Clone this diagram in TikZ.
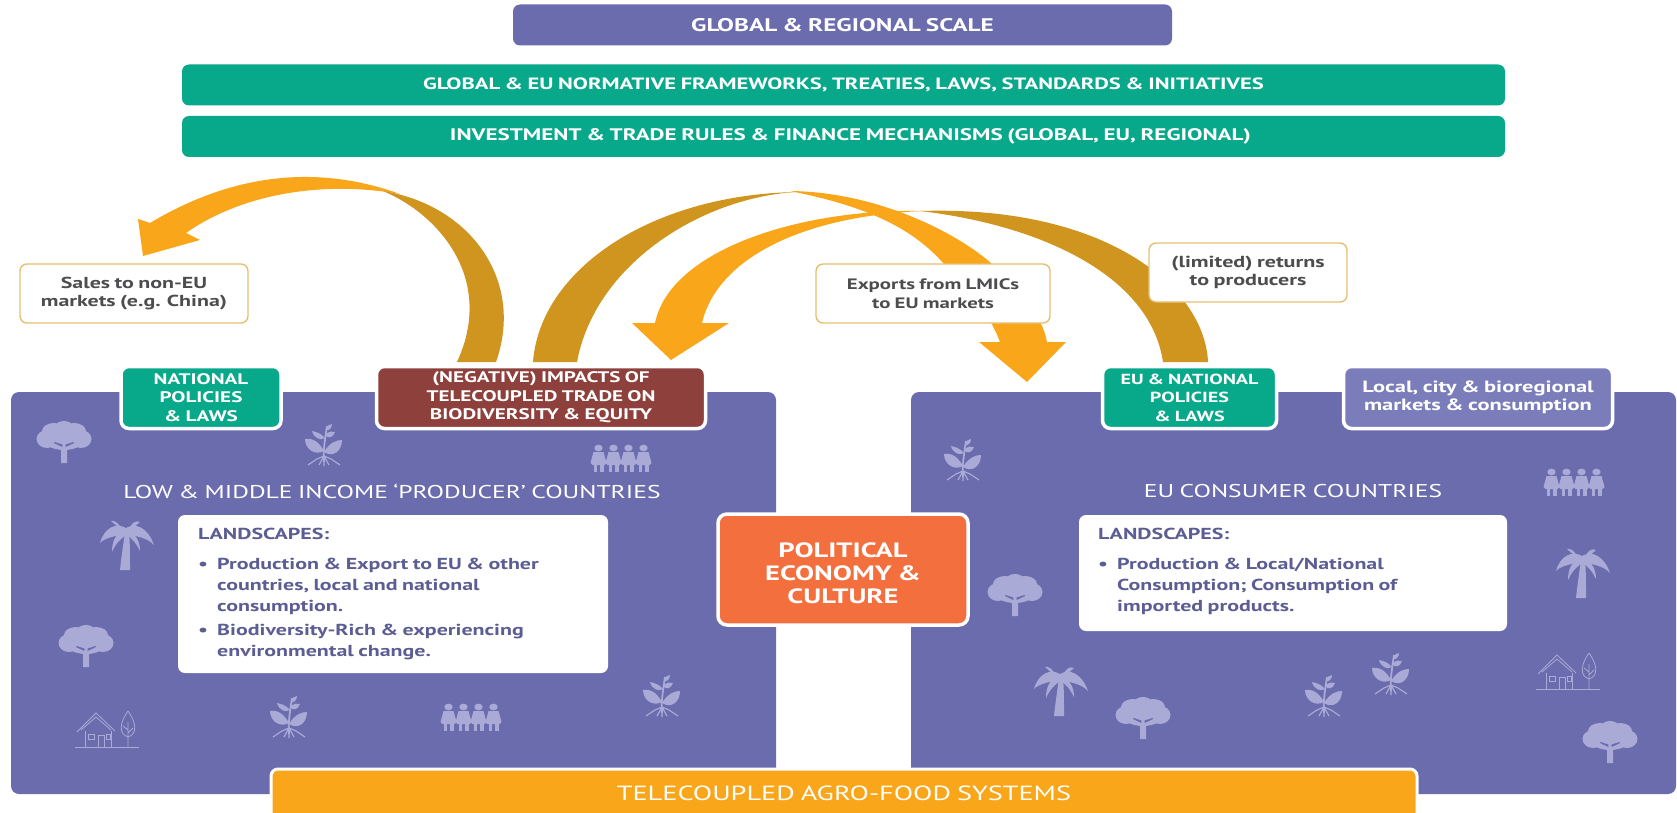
\documentclass[tikz,border=0pt]{standalone}
\usepackage{fontspec}
\setmainfont{PT Sans}[FakeStretch=1.38,WordSpace=0.8]
\definecolor{panel}{HTML}{6A6CAE}
\definecolor{teal}{HTML}{07A98A}
\definecolor{brick}{HTML}{8E403C}
\definecolor{tang}{HTML}{F36F3E}
\definecolor{amber}{HTML}{FAA61A}
\definecolor{gold}{HTML}{D0951F}
\definecolor{lilac}{HTML}{A9AAD6}
\definecolor{localbox}{HTML}{7B7DBB}
\definecolor{ink}{HTML}{5B5D93}
\definecolor{graytxt}{HTML}{4D4D4F}
\definecolor{lblline}{HTML}{E5C071}
\newcommand{\sz}[1]{\fontsize{#1}{18.5}\selectfont}
\tikzset{
  fbox/.style={rounded corners=7pt,align=center,inner sep=0pt,text=white},
  tagbox/.style={fbox,draw=white,line width=3.5pt,rounded corners=8pt},
  lbl/.style={draw=lblline,line width=1.4pt,fill=white,rounded corners=7pt,align=center,inner sep=0pt,text=graytxt},
  land/.style={fill=white,rounded corners=7pt,inner sep=0pt},
  landtxt/.style={anchor=north west,align=left,inner sep=0pt,text=ink,font=\fontsize{15.9}{21}\selectfont\bfseries},
  heading/.style={inner sep=0pt,text=white,font=\fontsize{18.5}{20}\selectfont},
  pics/tree/.style={code={
    \fill[lilac] (-3,21)--(-3,6)--(-14,-3)--(-3,0)--(-1,-8)--(2,-8)--(3,0)--(14,-3)--(3,6)--(3,21)--cycle;
    \fill[lilac] (0,-5) ellipse (22 and 13);
    \fill[lilac] (-17,-3) ellipse (10.5 and 9);
    \fill[lilac] (17,-3) ellipse (10.5 and 9);
    \fill[lilac] (-10,-11) ellipse (12 and 8);
    \fill[lilac] (10,-11) ellipse (12 and 8);
    \fill[lilac] (0,-15) ellipse (9 and 6);
    \fill[panel] (-1.6,5)--(-10,1)--(-9.5,0)--(-1.6,2.5)--cycle;
    \fill[panel] (1.6,5)--(10,1)--(9.5,0)--(1.6,2.5)--cycle;
  }},
  pics/palm/.style={code={
    \fill[lilac] (-1,-14) .. controls (-3,0) and (-5,14) .. (-6,24) -- (4,24) .. controls (4,10) and (4,-4) .. (3,-14) --cycle;
    \fill[lilac] (0,-18) .. controls (-10,-24) and (-22,-18) .. (-26,-3) .. controls (-22,-8) and (-10,-10) .. (1,-13) -- cycle;
    \fill[lilac] (0,-17) .. controls (-10,-13) and (-14,-6) .. (-14,6) .. controls (-10,-3) and (-5,-8) .. (2,-12) -- cycle;
    \fill[lilac] (0,-18) .. controls (10,-24) and (22,-18) .. (28,-1) .. controls (22,-8) and (10,-10) .. (0,-12) -- cycle;
    \fill[lilac] (0,-17) .. controls (9,-13) and (14,-6) .. (14,5) .. controls (10,-3) and (6,-8) .. (-1,-12) -- cycle;
    \fill[lilac] (-3,-15) .. controls (-8,-24) and (-12,-26) .. (-15,-25) .. controls (-8,-19) and (-4,-15) .. (1,-12) -- cycle;
    \fill[lilac] (2,-15) .. controls (6,-24) and (10,-26) .. (14,-24) .. controls (8,-19) and (5,-15) .. (0,-12) -- cycle;
  }},
  pics/plant/.style={code={
    \draw[lilac,line width=1.8pt] (0,17) .. controls (-1,6) and (1,-6) .. (3,-19);
    \fill[lilac] (0,6) .. controls (-6,-5) and (-13,-7) .. (-19,-6) .. controls (-19,4) and (-9,11) .. (0,6) -- cycle;
    \fill[lilac] (0,7) .. controls (6,-3) and (13,-5) .. (18,-5) .. controls (18,6) and (9,13) .. (0,7) -- cycle;
    \fill[lilac] (1,-7) .. controls (-3,-12) and (-8,-13) .. (-12,-14) .. controls (-10,-7) and (-4,-4) .. (1,-7) -- cycle;
    \fill[lilac] (1,-10) .. controls (5,-14) and (8,-14) .. (11,-13) .. controls (9,-7) and (4,-6) .. (1,-10) -- cycle;
    \fill[lilac] (2,-15) .. controls (3,-19) and (5,-21) .. (8,-21) .. controls (8,-17) and (5,-14) .. (2,-15) -- cycle;
    \draw[lilac,line width=1.2pt] (-16,20)--(-7,14)--(0,11)--(7,14)--(16,20) (0,11)--(-5,20) (0,11)--(5,20) (0,11)--(0,21);
  }},
  pics/folk/.style={code={
    \foreach \i in {-22.5,-7.5,7.5,22.5}{
      \fill[lilac] (\i,-10) ellipse (4.2 and 3.4);
      \fill[lilac] (\i-5,-6) -- (\i+5,-6) -- (\i+8,5) -- (\i+6,7) -- (\i-6,7) -- (\i-8,5) -- cycle;
      \fill[lilac] (\i-5,6) rectangle (\i-1.2,14);
      \fill[lilac] (\i+1.2,6) rectangle (\i+5,14);
    }
  }},
  pics/home/.style={code={
    \draw[lilac,line width=.8pt] (-32,17)--(32,17);
    \draw[lilac,line width=.8pt] (-30,2)--(-11,-17)--(8,1);
    \draw[lilac,line width=.8pt] (-26,0)--(-11,-13)--(4,0);
    \draw[lilac,line width=.8pt] (-22,1)--(-22,17) (4,1)--(4,17);
    \draw[lilac,line width=.8pt] (-19,4) rectangle (-13,9);
    \draw[lilac,line width=.8pt] (-9,5) rectangle (-3,17);
    \draw[lilac,line width=.8pt] (-1,4) rectangle (3,9);
    \draw[lilac,line width=.8pt] (21,-19) .. controls (13,-8) and (11,4) .. (21,7) .. controls (31,4) and (29,-8) .. (21,-19);
    \draw[lilac,line width=.8pt] (21,-8)--(21,17) (21,0)--(16,-4) (21,3)--(26,-2);
  }},
}
\begin{document}
\begin{tikzpicture}[x=1pt,y=-1pt]
\useasboundingbox (0,0) rectangle (1677,813);
\fill[white] (0,0) rectangle (1677,813);

% panels
\node[fill=panel,rounded corners=8pt,inner sep=0pt,minimum width=765pt,minimum height=402pt] (leftp) at (393.5,593) {};
\node[fill=panel,rounded corners=8pt,inner sep=0pt,minimum width=765pt,minimum height=402pt] (rightp) at (1293.5,593) {};

% icons
\foreach \p in {(64,442),(86,646),(1015,595),(1143,718),(1610,742)} \pic at \p {tree};
\foreach \p in {(126,546),(1582,574),(1060,692)} \pic at \p {palm};
\foreach \p in {(324,445),(289,717),(662,696),(963,460),(1324,696),(1391,674)} \pic at \p {plant};
\foreach \p in {(621,458),(471,717),(1574,482)} \pic at \p {folk};
\foreach \p in {(107,730),(1568,672)} \pic at \p {home};

% top bars
\node[fbox,fill=panel,minimum width=659pt,minimum height=41pt,font=\sz{18.3}\bfseries] (scale) at (842.5,25) {\raisebox{-2pt}{GLOBAL \& REGIONAL SCALE}};
\node[fbox,fill=teal,minimum width=1323pt,minimum height=41pt,font=\sz{16.35}\bfseries] (norm) at (843.5,85) {\raisebox{-2pt}{GLOBAL \& EU NORMATIVE FRAMEWORKS, TREATIES, LAWS, STANDARDS \& INITIATIVES}};
\node[fbox,fill=teal,minimum width=1323pt,minimum height=41pt,font=\sz{16.7}\bfseries] (invest) at (843.5,136.5) {\hspace{14pt}\raisebox{-2pt}{INVESTMENT \& TRADE RULES \& FINANCE MECHANISMS (GLOBAL, EU, REGIONAL)}};

% returns arrow
\fill[gold] (1208,362) .. controls (1205,290) and (1110,205) .. (920,211)
  .. controls (1040,225) and (1150,275) .. (1163,362) -- cycle;
% amber arrow to impacts
\fill[amber] (925,211) .. controls (800,208) and (670,250) .. (655,323)
  -- (632,323) -- (671,360) -- (729,323) -- (702,323)
  .. controls (718,255) and (810,215) .. (925,211) -- cycle;
% telecoupled arrow rising
\fill[gold] (533,362) .. controls (540,270) and (650,195) .. (796,192)
  .. controls (700,198) and (595,265) .. (577,362) -- cycle;
% amber arrow to EU
\fill[amber] (790,191) .. controls (880,192) and (960,235) .. (992,264)
  .. controls (1020,290) and (1042,315) .. (1047,342)
  -- (1066,342) -- (1027,382) -- (979,342) -- (1000,342)
  .. controls (990,315) and (970,290) .. (944,264)
  .. controls (910,225) and (860,205) .. (790,191) -- cycle;
% sales arrow
\fill[amber] (400,194) .. controls (320,165) and (235,172) .. (150,223)
  -- (138,219) -- (143,256) -- (200,240) -- (186,233)
  .. controls (240,195) and (320,180) .. (400,194) -- cycle;
\fill[gold] (496,362) .. controls (525,280) and (470,205) .. (383,191)
  .. controls (440,215) and (495,280) .. (457,362) -- cycle;

% labels
\node[lbl,minimum width=228pt,minimum height=59pt,font=\sz{15.9}\bfseries] (sales) at (134,293.5) {Sales to non-EU\\markets (e.g. China)};
\node[lbl,minimum width=234pt,minimum height=59pt,font=\sz{15.1}\bfseries] (exports) at (933,293.5) {Exports from LMICs\\to EU markets};
\node[lbl,minimum width=198pt,minimum height=59pt,font=\sz{16}\bfseries] (returns) at (1248,272.5) {(limited) returns\\to producers};

% tag boxes
\node[tagbox,fill=teal,minimum width=160pt,minimum height=62pt,font=\sz{15.3}\bfseries] (natl) at (201,397.5) {NATIONAL\\POLICIES\\\& LAWS};
\node[tagbox,fill=brick,minimum width=329pt,minimum height=62pt,font=\sz{15.3}\bfseries] (impacts) at (541,397.5) {(NEGATIVE) IMPACTS OF\\TELECOUPLED TRADE ON\\BIODIVERSITY \& EQUITY};
\node[tagbox,fill=teal,minimum width=174pt,minimum height=62pt,font=\sz{14.6}\bfseries] (eunatl) at (1189.5,397.5) {EU \& NATIONAL\\POLICIES\\\& LAWS};
\node[tagbox,fill=localbox,minimum width=269pt,minimum height=62pt,font=\sz{16.3}\bfseries] (local) at (1478,397.5) {Local, city \& bioregional\\markets \& consumption};

% headings
\node[heading] (lowh) at (392,491) {LOW \& MIDDLE INCOME ‘PRODUCER’ COUNTRIES};
\node[heading] (euh) at (1293,491) {EU CONSUMER COUNTRIES};

% landscapes
\node[land,minimum width=430pt,minimum height=158pt] (landl) at (393,594) {};
\node[land,minimum width=428pt,minimum height=116pt] (landr) at (1293,573) {};
\newcommand{\bul}{\hbox to 19pt{\textbullet\hfil}}
\newcommand{\nobul}{\hbox to 19pt{\hfil}}
\node[landtxt] (ltxt) at (198,528) {LANDSCAPES:\\[9pt]\bul Production \& Export to EU \& other\\\nobul countries, local and national\\\nobul consumption.\\[3pt]\bul Biodiversity-Rich \& experiencing\\\nobul environmental change.};
\node[landtxt] (rtxt) at (1098,528) {LANDSCAPES:\\[9pt]\bul Production \& Local/National\\\nobul Consumption; Consumption of\\\nobul imported products.};

% political economy
\node[fbox,fill=tang,draw=white,line width=3.5pt,rounded corners=9pt,minimum width=250pt,minimum height=111pt,font=\fontsize{20.7}{23}\selectfont\bfseries] (polit) at (843,569.5) {\rule{0pt}{22pt}POLITICAL\\ECONOMY \&\\CULTURE};

% bottom bar
\node[fbox,fill=amber,draw=white,line width=3pt,minimum width=1146pt,minimum height=56pt] (telesys) at (844,797) {};
\node[inner sep=0pt,text=white,font=\fontsize{20.5}{22}\selectfont] (teletxt) at (844,793) {TELECOUPLED AGRO-FOOD SYSTEMS};
\end{tikzpicture}
\end{document}
